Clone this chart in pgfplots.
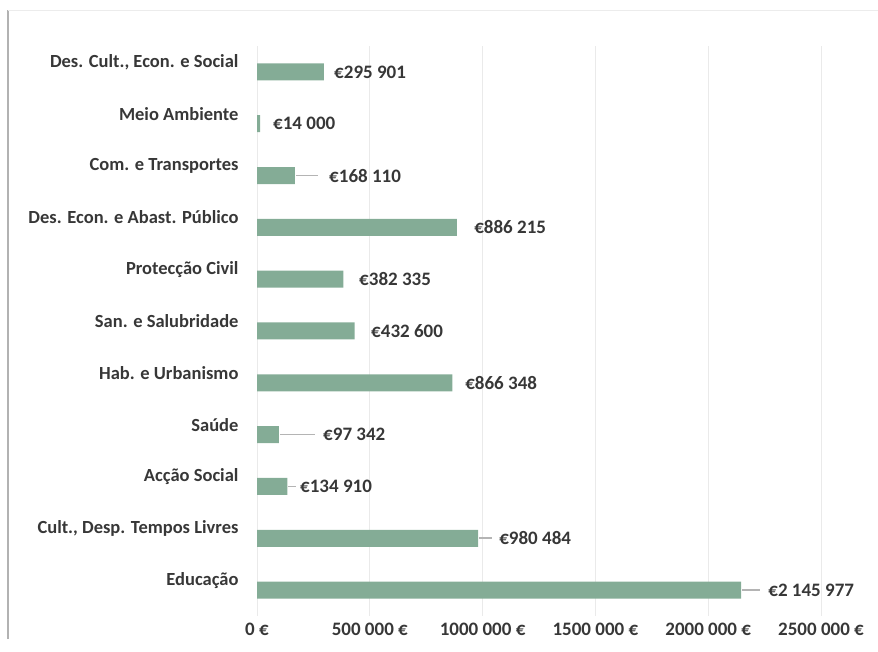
\documentclass[border=0pt]{standalone}
\usepackage{pgfplots}
\pgfplotsset{compat=1.18}
\usepackage{fontspec}
\setmainfont{Carlito}
\definecolor{barc}{RGB}{132,172,150}
\definecolor{txt}{RGB}{55,55,55}
\definecolor{gridc}{RGB}{234,234,234}
\definecolor{lead}{RGB}{180,180,180}
\begin{document}
\begin{tikzpicture}
\useasboundingbox (0,0) rectangle (878pt,651pt);
\draw[gray!60, line width=1.2pt] (8pt,12pt) -- (8pt,641pt);
\draw[gray!15, line width=0.8pt] (8pt,641pt) -- (878pt,641pt);
\begin{axis}[
  at={(257pt,35pt)}, anchor=south west,
  scale only axis, width=564pt, height=570pt,
  xmin=0, xmax=2500000, ymin=-0.5, ymax=10.5,
  axis line style={draw=none},
  major tick length=0pt,
  xmajorgrids=true, ymajorgrids=false,
  major grid style={draw=gridc, line width=0.8pt},
  xtick={0,500000,1000000,1500000,2000000,2500000},
  xticklabels={0 €, 500 000 €, 1000 000 €, 1500 000 €, 2000 000 €, 2500 000 €},
  ytick={0,...,10},
  yticklabels={Educação, {Cult., Desp. Tempos Livres}, Acção Social, Saúde, Hab. e Urbanismo, San. e Salubridade, Protecção Civil, Des. Econ. e Abast. Público, Com. e Transportes, Meio Ambiente, {Des. Cult., Econ. e Social}},
  ticklabel style={font=\fontsize{18.5}{20}\selectfont\bfseries, text=txt},
  yticklabel style={yshift=10pt, xshift=-15pt},
  xticklabel style={yshift=-4pt, font=\fontsize{19}{20}\selectfont\bfseries},
  scaled x ticks=false,
  clip=false,
]
\addplot[xbar, bar width=17pt, fill=barc, draw=none] coordinates {
  (2145977,0) (980484,1) (134910,2) (97342,3) (866348,4) (432600,5)
  (382335,6) (886215,7) (168110,8) (14000,9) (295901,10)
};
\addplot[lead, line width=1.6pt] coordinates {(173000,8) (270500,8)};
\addplot[lead, line width=1.6pt] coordinates {(102000,3) (257200,3)};
\addplot[lead, line width=1.6pt] coordinates {(138000,2) (173000,2)};
\addplot[lead, line width=1.6pt] coordinates {(984000,1) (1042000,1)};
\addplot[lead, line width=1.6pt] coordinates {(2150000,0) (2230600,0)};
\addplot[only marks, mark=none, nodes near coords, point meta=explicit symbolic,
  every node near coord/.append style={anchor=west, inner sep=0pt, text=txt,
  font=\fontsize{19}{20}\selectfont\bfseries}] coordinates {
  (341500,10) [€295 901]
  (71000,9) [€14 000]
  (319300,8) [€168 110]
  (962300,7) [€886 215]
  (452300,6) [€382 335]
  (505500,5) [€432 600]
  (922400,4) [€866 348]
  (292700,3) [€97 342]
  (190700,2) [€134 910]
  (1073200,1) [€980 484]
  (2266000,0) [€2 145 977]
};
\end{axis}
\end{tikzpicture}
\end{document}
